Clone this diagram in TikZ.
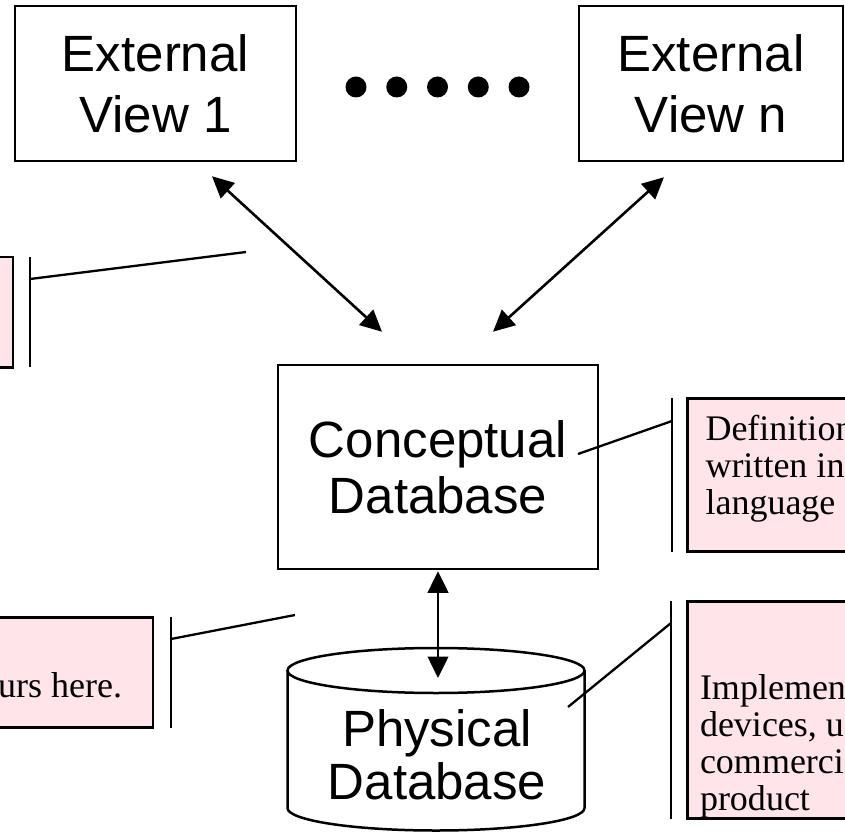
\documentclass[tikz,border=0pt]{standalone}
\usepackage{fontspec}
\setmainfont{Liberation Serif}
\newfontfamily\arialfont{Liberation Sans}
\usepackage{tikz}
\usetikzlibrary{calc,positioning,arrows.meta}

\tikzset{
  viewbox/.style={draw=drawColor,line width=2.5pt,fill=white,inner sep=0pt,align=center,
    font=\arialfont\fontsize{51}{61}\selectfont},
  notebox/.style={draw=drawColor,line width=2.5pt,fill=noteColor,inner sep=0pt},
  notetext/.style={inner sep=0pt,outer sep=0pt,align=left,font=\fontsize{36}{37}\selectfont},
  mapline/.style={draw=drawColor,line width=2.6pt,
    arrows={Triangle[length=21.5pt,width=20.5pt]-Triangle[length=21.5pt,width=20.5pt]}},
  calloutline/.style={draw=drawColor,line width=2.3pt}
}

\begin{document}
\begin{tikzpicture}[x=1pt,y=1pt]
\definecolor{drawColor}{RGB}{0,0,0}
\definecolor{noteColor}{RGB}{255,228,233}
\path[use as bounding box,fill=white] (0,0) rectangle (845,831);
\begin{scope}
\path[clip] (0,0) rectangle (845,831);

% the views
\node[viewbox,minimum width=281,minimum height=155] (ext1) at (155.5,747.5) {External\\View 1};
\node[viewbox,minimum width=264,minimum height=155] (extn) at (711,747.5) {External\\View n};
\foreach \x in {356,396.75,437.5,478.25,519}
  \fill[drawColor] (\x,744) circle (10.5);

% conceptual level
\node[viewbox,font=\arialfont\fontsize{51}{56}\selectfont,minimum width=320,minimum height=204] (concept) at (438,364) {Conceptual\\Database};

% physical level (cylinder)
\coordinate (cyltop) at (436,160.5);
\path[draw=drawColor,line width=2.5pt,fill=white] (287.5,160.5) -- (287.5,23)
  arc[start angle=180,end angle=360,x radius=148.5,y radius=22.5] -- (584.5,160.5);
\path[draw=drawColor,line width=2.5pt,fill=white] (cyltop) ellipse [x radius=148.5,y radius=22.5];
\node[inner sep=0pt,align=center,font=\arialfont\fontsize{51}{53}\selectfont] (phys) at (437,76) {Physical\\Database};

% mappings
\path[mapline] ($(ext1.south)+(56.5,-14)$) -- ($(concept.north)+(-56,32)$);
\path[mapline] ($(extn.south)+(-47,-15)$) -- ($(concept.north)+(55,32)$);
\path[mapline] ($(concept.south)+(0,-1)$) -- ($(concept.south |- cyltop)+(0,-7.5)$);

% notes
\node[notebox,minimum width=214,minimum height=110,anchor=north east] (noteext) at (14,575) {};
\coordinate (extpoint) at (246,579);
\path[calloutline] ($(noteext.north east)+(16,-1)$) -- ($(noteext.south east)+(16,1)$);
\path[calloutline] ($(noteext.north east)+(16,-23)$) -- (extpoint);

\node[notebox,minimum width=250,minimum height=153,anchor=north west] (notecon) at (686,434) {};
\node[notetext,anchor=north west] (notecontext) at ($(notecon.north west)+(19.5,-18.5)$) {Definition\\written in\\language};
\coordinate (conpoint) at (578,377);
\path[calloutline] ($(notecon.north west)+(-14,-1)$) -- ($(notecon.south west)+(-14,1)$);
\path[calloutline] ($(notecon.north west)+(-14,-24)$) -- (conpoint);

\node[notebox,minimum width=404,minimum height=110,anchor=north east] (notemap) at (154,215) {};
\node[notetext,anchor=base east] (notemaptext) at (122,134) {occurs here.};
\coordinate (mappoint) at (295,216);
\path[calloutline] ($(notemap.north east)+(17,-1)$) -- ($(notemap.south east)+(17,1)$);
\path[calloutline] ($(notemap.north east)+(17,-23)$) -- (mappoint);

\node[notebox,minimum width=250,minimum height=217,anchor=north west] (notephys) at (686,231) {};
\node[notetext,anchor=north west] (notephystext) at ($(notephys.north west)+(14,-75)$) {Implemented\\devices, using\\commercial\\product};
\coordinate (physpoint) at (568,124);
\path[calloutline] ($(notephys.north west)+(-15,-1)$) -- ($(notephys.south west)+(-15,1)$);
\path[calloutline] ($(notephys.north west)+(-15,-23)$) -- (physpoint);
\end{scope}
\end{tikzpicture}
\end{document}
